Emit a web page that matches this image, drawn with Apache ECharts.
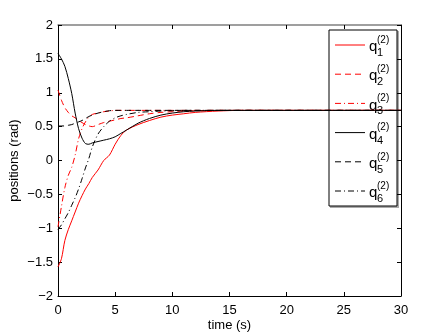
<!DOCTYPE html>
<html>
<head>
<meta charset="utf-8">
<script src="https://cdn.jsdelivr.net/npm/echarts@6/dist/echarts.min.js"></script>
<style>
html, body { margin: 0; padding: 0; background: #fff; }
#main { width: 443px; height: 333px; }
</style>
</head>
<body>
<div id="main"></div>
<script>
var time = [0, 0.3, 0.6, 0.9, 1.2, 1.5, 1.8, 2.1, 2.4, 2.7, 3.0, 3.5, 4.0, 4.5, 5.0, 5.5, 6.0, 7.0, 8.0, 9.0, 10, 11, 12, 14, 16, 20, 25, 30];
var q1 = [-1.57, -1.45, -1.18, -1.02, -0.89, -0.76, -0.63, -0.52, -0.42, -0.34, -0.25, -0.14, 0.0, 0.08, 0.24, 0.37, 0.45, 0.53, 0.59, 0.64, 0.67, 0.69, 0.71, 0.73, 0.74, 0.74, 0.74, 0.74];
var q2 = [1.04, 0.89, 0.78, 0.71, 0.66, 0.63, 0.59, 0.56, 0.53, 0.51, 0.50, 0.53, 0.56, 0.58, 0.60, 0.62, 0.63, 0.66, 0.69, 0.71, 0.72, 0.73, 0.735, 0.74, 0.74, 0.74, 0.74, 0.74];
var q3 = [-0.98, -0.68, -0.40, -0.22, -0.10, 0.08, 0.32, 0.47, 0.57, 0.64, 0.68, 0.70, 0.72, 0.73, 0.74, 0.74, 0.74, 0.74, 0.74, 0.74, 0.74, 0.74, 0.74, 0.74, 0.74, 0.74, 0.74, 0.74];
var q4 = [1.58, 1.50, 1.39, 1.21, 0.99, 0.70, 0.47, 0.33, 0.25, 0.24, 0.26, 0.28, 0.30, 0.32, 0.35, 0.40, 0.45, 0.55, 0.62, 0.67, 0.70, 0.72, 0.73, 0.74, 0.74, 0.74, 0.74, 0.74];
var q5 = [0.51, 0.51, 0.51, 0.52, 0.53, 0.55, 0.57, 0.59, 0.62, 0.65, 0.67, 0.70, 0.72, 0.735, 0.74, 0.74, 0.74, 0.74, 0.74, 0.74, 0.74, 0.74, 0.74, 0.74, 0.74, 0.74, 0.74, 0.74];
var q6 = [-1.02, -0.95, -0.86, -0.77, -0.66, -0.55, -0.42, -0.27, -0.11, 0.03, 0.20, 0.39, 0.50, 0.58, 0.63, 0.66, 0.68, 0.71, 0.72, 0.73, 0.735, 0.74, 0.74, 0.74, 0.74, 0.74, 0.74, 0.74];

var seriesValues = [q1, q2, q3, q4, q5, q6];
var seriesIndex = ['1', '2', '3', '4', '5', '6'];
var seriesColors = ['#ff0000', '#ff0000', '#ff0000', '#000000', '#000000', '#000000'];
var dashes = [null, [6, 4], [6, 3, 1, 3], null, [6, 4], [6, 3, 1, 3]];

var chart = echarts.init(document.getElementById('main'));
var font = 'Liberation Sans, Arial, sans-serif';

function minus(v) { return String(v).replace('-', '\u2212'); }

var series = seriesValues.map(function (vals, i) {
  return {
    name: 'q' + seriesIndex[i],
    type: 'line',
    xAxisIndex: 0,
    yAxisIndex: 0,
    data: time.map(function (t, k) { return [t, vals[k]]; }),
    showSymbol: false,
    smooth: 0.3,
    lineStyle: { color: seriesColors[i], width: 1, type: dashes[i] || 'solid' },
    animation: false
  };
});

// legend drawn by hand so q can carry both sub- and superscript
var legend = [];
var lx = 329, ly = 30, lw = 68, lh = 176, step = 29.2;
legend.push({ type: 'rect', shape: { x: lx + 1, y: ly + 1, width: lw + 1, height: lh + 1 }, style: { fill: '#aaa' }, silent: true });
legend.push({ type: 'rect', shape: { x: lx, y: ly, width: lw, height: lh }, style: { fill: '#fff', stroke: '#000', lineWidth: 1 }, silent: true });
seriesIndex.forEach(function (s, i) {
  var cy = 45 + step * i;
  legend.push({ type: 'line', shape: { x1: 335, y1: cy, x2: 365, y2: cy },
    style: { stroke: seriesColors[i], lineWidth: 1, lineDash: dashes[i] } });
  legend.push({ type: 'text', x: 369, y: cy + 2, style: { text: 'q', font: '15px ' + font, fill: '#000', verticalAlign: 'middle' } });
  legend.push({ type: 'text', x: 377, y: cy - 5, style: { text: '(2)', font: '10px ' + font, fill: '#000', verticalAlign: 'middle' } });
  legend.push({ type: 'text', x: 377, y: cy + 8, style: { text: s, font: '11px ' + font, fill: '#000', verticalAlign: 'middle' } });
});

var option = {
  backgroundColor: '#fff',
  animation: false,
  grid: { left: 58, right: 42, top: 25, bottom: 37, containLabel: false, outerBoundsMode: 'none' },
  xAxis: [{
    type: 'value', min: 0, max: 30, interval: 5, position: 'bottom',
    name: 'time (s)', nameLocation: 'middle', nameGap: 23, nameMoveOverlap: false,
    nameTextStyle: { fontFamily: font, fontSize: 13, color: '#000' },
    axisLine: { onZero: false, lineStyle: { color: '#000', width: 1 } },
    axisTick: { inside: true, length: 4, lineStyle: { color: '#000' } },
    axisLabel: { fontFamily: font, fontSize: 13, color: '#000', margin: 8 },
    splitLine: { show: false }
  }, {
    type: 'value', min: 0, max: 30, interval: 5, position: 'top',
    axisLine: { onZero: false, lineStyle: { color: '#808080', width: 1.5 } },
    axisTick: { inside: true, length: 4, lineStyle: { color: '#000' } },
    axisLabel: { show: false }, splitLine: { show: false }
  }],
  yAxis: [{
    type: 'value', min: -2, max: 2, interval: 0.5, position: 'left',
    name: 'positions (rad)', nameLocation: 'middle', nameGap: 37, nameMoveOverlap: false,
    nameTextStyle: { fontFamily: font, fontSize: 13, color: '#000' },
    axisLine: { show: true, onZero: false, lineStyle: { color: '#000', width: 1 } },
    axisTick: { show: true, inside: true, length: 4, lineStyle: { color: '#000' } },
    axisLabel: { fontFamily: font, fontSize: 13, color: '#000', margin: 5, formatter: minus },
    splitLine: { show: false }
  }, {
    type: 'value', min: -2, max: 2, interval: 0.5, position: 'right',
    axisLine: { show: true, onZero: false, lineStyle: { color: '#000', width: 1 } },
    axisTick: { show: true, inside: true, length: 4, lineStyle: { color: '#000' } },
    axisLabel: { show: false }, splitLine: { show: false }
  }],
  series: series,
  graphic: legend
};

chart.setOption(option);
</script>
</body>
</html>
